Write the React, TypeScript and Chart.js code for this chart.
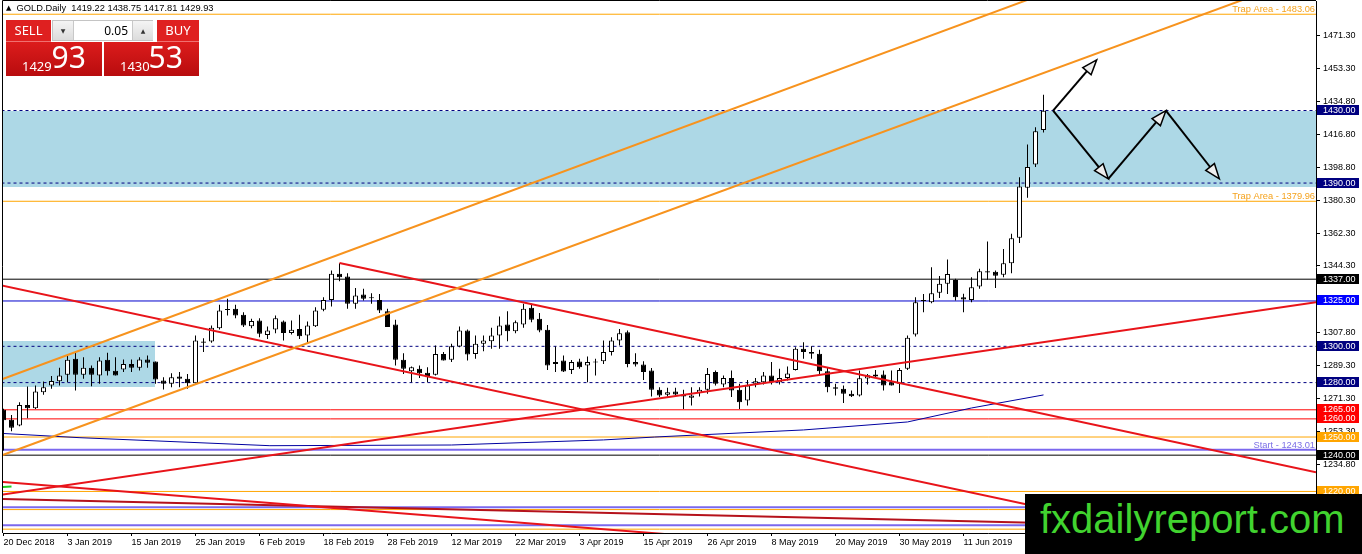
import React, { useEffect, useRef } from 'react';
import { Chart, registerables } from 'chart.js';

Chart.register(...registerables);

// ---------------- data ----------------
const symbolName = 'GOLD.Daily';
const bidPrice = 1429.93;
const askPrice = 1430.53;
const lotSize = 0.05;

const opens = [
  1265.0, 1259.5, 1256.4, 1267.7, 1265.9, 1274.7, 1278.4, 1280.8, 1284.3, 1293.1,
  1284.3, 1288.2, 1283.9, 1292.6, 1286.5, 1287.2, 1290.3, 1288.2, 1292.7, 1291.6,
  1281.2, 1279.3, 1283.4, 1282.1, 1279.7, 1302.0, 1302.7, 1310.0, 1320.5, 1320.7,
  1317.4, 1311.1, 1314.2, 1306.3, 1309.3, 1313.7, 1307.4, 1309.6, 1305.9, 1311.1,
  1320.1, 1325.6, 1340.0, 1338.5, 1323.4, 1328.6, 1326.8, 1325.6, 1319.4, 1312.0,
  1292.6, 1286.3, 1287.6, 1285.4, 1284.3, 1295.8, 1292.6, 1299.9, 1308.7, 1295.8,
  1301.4, 1302.8, 1306.0, 1312.0, 1308.3, 1312.0, 1321.2, 1315.2, 1309.1, 1290.3,
  1292.2, 1287.0, 1291.6, 1289.4, 1291.6, 1291.8, 1296.8, 1303.2, 1307.8, 1291.3,
  1290.0, 1286.7, 1276.0, 1273.3, 1275.1, 1273.4, 1271.6, 1274.2, 1276.0, 1285.8,
  1278.9, 1282.6, 1276.0, 1270.1, 1279.3, 1280.2, 1283.9, 1280.2, 1282.6, 1287.0,
  1298.6, 1296.8, 1295.9, 1286.3, 1277.5, 1276.6, 1273.8, 1272.9, 1282.2, 1284.5,
  1284.5, 1280.2, 1279.3, 1287.6, 1306.5, 1325.2, 1324.3, 1329.5, 1334.5, 1336.6,
  1327.1, 1325.6, 1333.0, 1341.4, 1341.1, 1339.4, 1345.8, 1359.8, 1387.4, 1400.2,
  1419.22,
];
const highs = [
  1265.6, 1262.2, 1269.2, 1277.9, 1278.4, 1280.6, 1283.6, 1288.2, 1294.9, 1297.1,
  1294.0, 1289.4, 1294.0, 1296.4, 1294.0, 1292.7, 1292.7, 1294.0, 1295.0, 1291.6,
  1283.0, 1285.2, 1285.8, 1284.8, 1306.0, 1304.5, 1311.5, 1322.9, 1326.2, 1322.9,
  1318.8, 1315.2, 1315.5, 1310.9, 1317.0, 1314.2, 1314.2, 1317.4, 1313.7, 1321.6,
  1327.1, 1341.8, 1345.8, 1340.3, 1332.2, 1331.7, 1329.3, 1328.9, 1320.7, 1314.6,
  1296.2, 1288.9, 1289.4, 1288.5, 1300.4, 1296.8, 1301.4, 1310.9, 1309.3, 1306.0,
  1306.0, 1310.2, 1316.4, 1319.4, 1314.2, 1323.4, 1323.4, 1318.3, 1311.8, 1299.9,
  1294.9, 1292.5, 1293.1, 1294.4, 1293.1, 1303.2, 1305.0, 1309.6, 1308.7, 1296.2,
  1291.8, 1288.1, 1277.5, 1277.1, 1277.1, 1276.0, 1277.5, 1277.5, 1288.1, 1286.7,
  1283.9, 1286.7, 1279.3, 1281.5, 1282.6, 1285.8, 1291.3, 1287.6, 1288.9, 1299.5,
  1302.3, 1300.1, 1298.1, 1288.1, 1279.3, 1278.4, 1275.6, 1286.7, 1284.8, 1287.0,
  1286.7, 1286.7, 1288.1, 1305.9, 1327.1, 1328.9, 1343.6, 1338.7, 1347.9, 1337.2,
  1329.0, 1338.1, 1342.7, 1357.8, 1341.8, 1353.7, 1362.0, 1393.2, 1411.3, 1420.8,
  1438.75,
];
const lows = [
  1242.6, 1253.2, 1256.0, 1260.4, 1265.5, 1273.3, 1276.6, 1278.4, 1280.2, 1275.7,
  1282.1, 1278.0, 1279.3, 1283.9, 1283.9, 1285.8, 1285.8, 1286.7, 1288.2, 1279.3,
  1276.2, 1277.5, 1277.5, 1276.6, 1279.3, 1296.8, 1301.9, 1309.3, 1317.0, 1315.5,
  1310.6, 1310.0, 1305.0, 1304.1, 1307.2, 1303.2, 1306.5, 1304.1, 1301.7, 1310.6,
  1319.4, 1321.9, 1335.9, 1320.7, 1320.7, 1325.3, 1323.4, 1318.3, 1310.6, 1289.4,
  1284.8, 1280.2, 1282.6, 1280.2, 1283.9, 1292.2, 1291.3, 1299.5, 1292.2, 1293.1,
  1297.3, 1298.6, 1298.6, 1302.8, 1307.2, 1310.2, 1313.3, 1307.8, 1287.0, 1285.8,
  1285.8, 1284.8, 1287.6, 1280.2, 1283.9, 1290.3, 1294.9, 1300.4, 1288.5, 1288.9,
  1281.5, 1272.3, 1272.0, 1272.3, 1272.7, 1265.5, 1267.4, 1272.3, 1273.8, 1278.4,
  1277.5, 1272.0, 1265.5, 1267.4, 1277.5, 1279.0, 1279.0, 1279.0, 1281.2, 1286.7,
  1293.1, 1293.1, 1284.8, 1274.7, 1272.9, 1268.7, 1272.0, 1272.3, 1278.9, 1283.0,
  1275.6, 1278.4, 1274.2, 1287.0, 1305.4, 1318.8, 1323.8, 1326.7, 1328.9, 1325.3,
  1318.8, 1324.3, 1331.7, 1336.7, 1332.2, 1338.1, 1340.3, 1356.9, 1381.9, 1398.8,
  1417.81,
];
const closes = [
  1259.3, 1255.1, 1267.7, 1265.9, 1275.1, 1277.5, 1280.9, 1283.9, 1292.6, 1284.3,
  1288.2, 1284.3, 1292.2, 1286.3, 1283.9, 1290.3, 1288.2, 1292.7, 1290.9, 1281.7,
  1279.3, 1283.0, 1282.1, 1279.7, 1303.2, 1302.7, 1310.2, 1319.8, 1320.0, 1317.0,
  1311.5, 1313.9, 1306.9, 1308.7, 1315.5, 1307.4, 1309.1, 1305.6, 1311.5, 1319.7,
  1325.6, 1340.0, 1338.1, 1323.4, 1328.0, 1326.2, 1326.5, 1319.7, 1310.6, 1292.6,
  1287.6, 1288.5, 1285.2, 1283.0, 1295.8, 1292.2, 1300.1, 1308.7, 1295.5, 1301.4,
  1303.2, 1306.0, 1311.5, 1308.3, 1313.3, 1320.7, 1314.6, 1308.7, 1289.4, 1291.3,
  1286.1, 1291.3, 1288.5, 1291.3, 1291.1, 1296.8, 1303.2, 1307.2, 1290.3, 1290.0,
  1285.8, 1276.0, 1272.9, 1274.7, 1273.4, 1272.3, 1272.9, 1276.0, 1284.8, 1279.3,
  1282.6, 1275.6, 1269.2, 1278.4, 1280.8, 1283.9, 1280.2, 1282.6, 1285.0, 1298.6,
  1296.8, 1295.9, 1286.3, 1277.5, 1276.6, 1273.8, 1272.5, 1282.4, 1284.1, 1283.4,
  1278.4, 1278.4, 1287.0, 1304.7, 1324.3, 1325.0, 1329.3, 1334.5, 1339.9, 1327.1,
  1325.8, 1332.6, 1341.4, 1340.7, 1338.9, 1345.8, 1359.6, 1388.1, 1398.8, 1418.6,
  1429.93,
];

const dateTickIndex = [0, 8, 16, 24, 32, 40, 48, 56, 64, 72, 80, 88, 96, 104, 112, 120];
const dateTickLabels = [
  '20 Dec 2018', '3 Jan 2019', '15 Jan 2019', '25 Jan 2019', '6 Feb 2019', '18 Feb 2019',
  '28 Feb 2019', '12 Mar 2019', '22 Mar 2019', '3 Apr 2019', '15 Apr 2019', '26 Apr 2019',
  '8 May 2019', '20 May 2019', '30 May 2019', '11 Jun 2019',
];
const priceTicks = [
  1471.3, 1453.3, 1434.8, 1416.8, 1398.8, 1380.3, 1362.3, 1344.3, 1325.8,
  1307.8, 1289.3, 1271.3, 1253.3, 1234.8, 1216.8,
];

// horizontal levels
const levelValues = [
  1483.06, 1430, 1390, 1379.96, 1337, 1325, 1300, 1280, 1265, 1260,
  1250, 1243.01, 1240, 1220, 1211.3, 1210, 1201.4, 1199.2,
];
const levelKinds = [
  'trap', 'dash', 'dash', 'trap', 'black', 'blue', 'dash', 'dash', 'red', 'red',
  'orange', 'start', 'black', 'orange', 'start', 'orange', 'start', 'orange',
];
const axisBoxValues = [1430, 1390, 1337, 1325, 1300, 1280, 1265, 1260, 1250, 1240, 1220];
const axisBoxKinds = ['navy', 'navy', 'black', 'blue', 'navy', 'navy', 'red', 'red', 'orange', 'black', 'orange'];
const trapLevels = [1483.06, 1379.96];
const startLevels = [1243.01];

// moving average
const maIndex = [-0.44, 9.56, 33.3, 56, 75, 81.4, 100, 113, 121, 130];
const maValues = [1252.05, 1249.63, 1245.22, 1245.6, 1248.4, 1250.0, 1253.9, 1258.3, 1266.0, 1273.2];

// trend lines [x0, price0, x1, price1]
const orangeLines = [
  [-0.4375, 1281.43, 164.0625, 1549.85],
  [-0.4375, 1239.54, 164.0625, 1505.8],
];
const redLines = [
  [-0.4375, 1333.8, 164.0625, 1178.79],
  [42, 1345.9, 164.0625, 1230.55],
  [-0.4375, 1218.04, 164.0625, 1324.27],
  [-0.4375, 1225.37, 164.0625, 1168.26],
];
const darkRedLines = [[-0.4375, 1215.83, 164.0625, 1199.13]];
const greenLines = [[-1, 1222.3, 1.0, 1222.7]];

// rectangles
const zoneFrom = [-5, -5];
const zoneTo = [200, 18.94];
const zoneTop = [1430, 1303.2];
const zoneBottom = [1387.8, 1277.5];

// projection arrows
const arrowFromX = [131.2, 131.2, 138.1, 145.3];
const arrowFromY = [1429.9, 1429.9, 1392.35, 1429.9];
const arrowToX = [136.65, 138.1, 145.3, 151.98];
const arrowToY = [1457.95, 1392.35, 1429.9, 1392.35];

// scale range
const xMin = -0.0625;
const xMax = 164.0625;
const yMin = 1197.089;
const yMax = 1490.364;

// ---------------- styles ----------------
const kindStyle: Record<string, { color: string; width: number; dash: number[] }> = {
  trap: { color: '#ffa500', width: 1, dash: [] },
  dash: { color: '#000080', width: 1, dash: [3, 3] },
  black: { color: '#000000', width: 1, dash: [] },
  blue: { color: '#0000cd', width: 1, dash: [] },
  red: { color: '#ff0000', width: 1, dash: [] },
  orange: { color: '#ffa500', width: 1, dash: [] },
  start: { color: '#7b68ee', width: 2, dash: [] },
};
const boxColor: Record<string, string> = {
  navy: '#000080',
  black: '#000000',
  blue: '#0000ff',
  red: '#ff0000',
  orange: '#ffa500',
};
const FONT = '"Liberation Sans", Arial, sans-serif';

function lineDs(seg: number[], color: string, width: number, order: number, dash: number[] = []) {
  return {
    type: 'line',
    data: [
      { x: seg[0], y: seg[1] },
      { x: seg[2], y: seg[3] },
    ],
    borderColor: color,
    borderWidth: width,
    borderDash: dash,
    pointRadius: 0,
    fill: false,
    clip: 0,
    order,
  };
}

function drawArrow(ctx: CanvasRenderingContext2D, x0: number, y0: number, x1: number, y1: number) {
  const ang = Math.atan2(y1 - y0, x1 - x0);
  const L = 15;
  const W = 5.5;
  const c = Math.cos(ang);
  const s = Math.sin(ang);
  const bx = x1 - L * c;
  const by = y1 - L * s;
  ctx.strokeStyle = '#000';
  ctx.lineWidth = 2;
  ctx.beginPath();
  ctx.moveTo(x0, y0);
  ctx.lineTo(bx, by);
  ctx.stroke();
  ctx.beginPath();
  ctx.moveTo(x1, y1);
  ctx.lineTo(bx + W * s, by - W * c);
  ctx.lineTo(bx - W * s, by + W * c);
  ctx.closePath();
  ctx.fillStyle = '#eeeeee';
  ctx.fill();
  ctx.lineWidth = 1.5;
  ctx.stroke();
}

const mt4Plugin = {
  id: 'mt4Overlay',
  beforeDatasetsDraw(chart: any) {
    const { ctx, chartArea: a, scales } = chart;
    const xs = scales.x;
    const ys = scales.y;
    ctx.save();
    ctx.beginPath();
    ctx.rect(a.left, a.top, a.right - a.left, a.bottom - a.top);
    ctx.clip();
    ctx.fillStyle = '#add8e6';
    for (let i = 0; i < zoneFrom.length; i++) {
      const x0 = Math.max(a.left, Math.round(xs.getPixelForValue(zoneFrom[i])));
      const x1 = Math.min(a.right, Math.round(xs.getPixelForValue(zoneTo[i])));
      const y0 = Math.round(ys.getPixelForValue(zoneTop[i]));
      const y1 = Math.round(ys.getPixelForValue(zoneBottom[i]));
      ctx.fillRect(x0, y0, x1 - x0, y1 - y0);
    }
    ctx.restore();
  },
  afterDatasetsDraw(chart: any) {
    const { ctx, chartArea: a, scales } = chart;
    const xs = scales.x;
    const ys = scales.y;
    ctx.save();
    ctx.beginPath();
    ctx.rect(a.left, a.top, a.right - a.left, a.bottom - a.top);
    ctx.clip();
    for (let i = 0; i < arrowFromX.length; i++) {
      drawArrow(
        ctx,
        xs.getPixelForValue(arrowFromX[i]),
        ys.getPixelForValue(arrowFromY[i]),
        xs.getPixelForValue(arrowToX[i]),
        ys.getPixelForValue(arrowToY[i])
      );
    }
    ctx.font = `9.3px ${FONT}`;
    ctx.textAlign = 'right';
    ctx.textBaseline = 'alphabetic';
    ctx.fillStyle = '#f5a21c';
    trapLevels.forEach((v) => {
      ctx.fillText(`Trap Area - ${v.toFixed(2)}`, a.right - 1, Math.round(ys.getPixelForValue(v)) - 2);
    });
    ctx.fillStyle = '#7b6fe6';
    startLevels.forEach((v) => {
      ctx.fillText(`Start - ${v.toFixed(2)}`, a.right - 1, Math.round(ys.getPixelForValue(v)) - 2);
    });
    ctx.restore();
  },
  afterDraw(chart: any) {
    const { ctx, chartArea: a, scales } = chart;
    const ys = scales.y;
    ctx.save();
    ctx.strokeStyle = '#000';
    ctx.lineWidth = 1;
    ctx.beginPath();
    ctx.moveTo(a.left - 0.5, a.bottom);
    ctx.lineTo(a.left - 0.5, a.top - 0.5);
    ctx.lineTo(a.right, a.top - 0.5);
    ctx.stroke();
    ctx.font = `9px ${FONT}`;
    ctx.textAlign = 'left';
    ctx.textBaseline = 'middle';
    axisBoxValues.forEach((v, i) => {
      const py = ys.getPixelForValue(v);
      const top = Math.floor(py) - 5;
      ctx.fillStyle = boxColor[axisBoxKinds[i]];
      ctx.fillRect(a.right + 1, top, 42, 10);
      ctx.fillStyle = '#ffffff';
      ctx.fillText(v.toFixed(2), a.right + 7, top + 5.5);
    });
    ctx.restore();
  },
};

function buildConfig(): any {
  const idx = opens.map((_, i) => i);
  const bull = idx.map((i) => closes[i] >= opens[i]);
  const datasets: any[] = [];

  levelValues.forEach((v, i) => {
    const st = kindStyle[levelKinds[i]];
    datasets.push(lineDs([-10, v, 200, v], st.color, st.width, 60, st.dash));
  });

  datasets.push({
    type: 'line',
    data: maIndex.map((x, i) => ({ x, y: maValues[i] })),
    borderColor: '#0000a0',
    borderWidth: 1,
    pointRadius: 0,
    fill: false,
    clip: 0,
    order: 40,
  });

  datasets.push({
    type: 'bar',
    data: idx.map((i) => ({ x: i, y: [lows[i], highs[i]] })),
    backgroundColor: '#000000',
    borderWidth: 0,
    barThickness: 1,
    grouped: false,
    inflateAmount: 0,
    clip: 0,
    order: 30,
  });

  datasets.push({
    type: 'bar',
    data: idx.map((i) => ({ x: i, y: [opens[i], closes[i]] })),
    backgroundColor: idx.map((i) => (bull[i] ? '#ffffff' : '#000000')),
    borderColor: '#000000',
    borderWidth: 1,
    borderSkipped: false,
    barThickness: 5,
    minBarLength: 1,
    grouped: false,
    inflateAmount: 0,
    clip: 0,
    order: 20,
  });

  orangeLines.forEach((s) => datasets.push(lineDs(s, '#f7931e', 2, 10)));
  redLines.forEach((s) => datasets.push(lineDs(s, '#e8141a', 2, 10)));
  darkRedLines.forEach((s) => datasets.push(lineDs(s, '#b5121b', 2, 11)));
  greenLines.forEach((s) => datasets.push(lineDs(s, '#22cc22', 2, 12)));

  return {
    type: 'bar',
    data: { datasets },
    plugins: [mt4Plugin],
    options: {
      animation: false,
      responsive: false,
      devicePixelRatio: 1,
      events: [],
      layout: { padding: { left: 3, top: 1, right: 0, bottom: 0 } },
      plugins: { legend: { display: false }, tooltip: { enabled: false } },
      scales: {
        x: {
          type: 'linear',
          position: 'bottom',
          min: xMin,
          max: xMax,
          offset: false,
          grid: { display: true, drawOnChartArea: false, drawTicks: true, tickLength: 3, color: '#000', offset: false },
          border: { display: true, color: '#000', width: 1 },
          ticks: {
            autoSkip: false,
            maxRotation: 0,
            minRotation: 0,
            align: 'start',
            padding: 1,
            color: '#000',
            font: { family: FONT, size: 9 },
            callback: (v: number) => {
              const k = dateTickIndex.indexOf(v);
              return k >= 0 ? dateTickLabels[k] : '';
            },
          },
          afterBuildTicks: (s: any) => {
            s.ticks = dateTickIndex.map((v) => ({ value: v }));
          },
          afterFit: (s: any) => {
            s.height = 21;
            s.paddingLeft = 0;
            s.paddingRight = 0;
          },
        },
        y: {
          type: 'linear',
          position: 'right',
          min: yMin,
          max: yMax,
          beginAtZero: false,
          grid: { display: true, drawOnChartArea: false, drawTicks: true, tickLength: 4, color: '#000' },
          border: { display: true, color: '#000', width: 1 },
          ticks: {
            autoSkip: false,
            padding: 3,
            color: '#000',
            font: { family: FONT, size: 9 },
            callback: (v: number) => Number(v).toFixed(2),
          },
          afterBuildTicks: (s: any) => {
            s.ticks = priceTicks.map((v) => ({ value: v }));
          },
          afterFit: (s: any) => {
            s.width = 46;
            s.paddingTop = 0;
            s.paddingBottom = 0;
          },
        },
      },
    },
  };
}

const abs = (o: any): any => ({ position: 'absolute', ...o });

export default function App() {
  const ref = useRef<HTMLCanvasElement>(null);
  useEffect(() => {
    document.body.style.margin = '0';
    document.body.style.overflow = 'hidden';
    const chart = new Chart(ref.current as HTMLCanvasElement, buildConfig());
    return () => chart.destroy();
  }, []);

  const last = opens.length - 1;
  const header = `${symbolName}  ${opens[last].toFixed(2)} ${highs[last].toFixed(2)} ${lows[last].toFixed(2)} ${closes[last].toFixed(2)}`;
  const bidStr = bidPrice.toFixed(2).split('.');
  const askStr = askPrice.toFixed(2).split('.');
  const panelFont = '"Noto Sans", "Open Sans", sans-serif';
  const boxBg = 'linear-gradient(#dc1c1c, #b80c0e)';

  return (
    <div style={abs({ left: 0, top: 0, width: 1362, height: 554, background: '#fff', overflow: 'hidden' })}>
      <canvas ref={ref} width={1362} height={554} style={abs({ left: 0, top: 0, width: 1362, height: 554 })} />

      {/* header */}
      <div style={abs({ left: 6, top: 2, font: `9.3px ${FONT}`, lineHeight: '12px', color: '#000', whiteSpace: 'pre' })}>
        <span style={{ fontSize: 7, position: 'relative', top: -1, fontFamily: '"DejaVu Sans"' }}>▲</span>
        {'  ' + header}
      </div>

      {/* one-click trading panel */}
      <div style={abs({ left: 6, top: 20, width: 45, height: 22, background: '#df2020', color: '#fff', font: `13px ${panelFont}`, lineHeight: '21px', textAlign: 'center', borderBottom: '1px solid #f07070', boxSizing: 'border-box' })}>SELL</div>
      <div style={abs({ left: 157, top: 20, width: 42, height: 22, background: '#df2020', color: '#fff', font: `13px ${panelFont}`, lineHeight: '21px', textAlign: 'center', borderBottom: '1px solid #f07070', boxSizing: 'border-box' })}>BUY</div>
      <div style={abs({ left: 52, top: 20, width: 101, height: 21, background: '#fff', border: '1px solid #c4c4c4', boxSizing: 'border-box' })}>
        <div style={abs({ left: 0, top: 0, width: 20, height: 19, background: 'linear-gradient(#f4f4f4, #dcdcdc)', borderRight: '1px solid #c8c8c8', fontSize: 6, lineHeight: '19px', textAlign: 'center', color: '#333', fontFamily: '"DejaVu Sans"' })}>▼</div>
        <div style={abs({ right: 24, top: 0, height: 19, font: `12px ${panelFont}`, lineHeight: '19px', color: '#000' })}>{lotSize.toFixed(2)}</div>
        <div style={abs({ left: 79, top: 0, width: 20, height: 19, background: 'linear-gradient(#f4f4f4, #dcdcdc)', borderLeft: '1px solid #c8c8c8', fontSize: 6, lineHeight: '19px', textAlign: 'center', color: '#333', fontFamily: '"DejaVu Sans"' })}>▲</div>
      </div>
      <div style={abs({ left: 6, top: 42, width: 96, height: 34, background: boxBg })}>
        <span style={abs({ left: 16, top: 17.5, font: `13px ${panelFont}`, lineHeight: '13px', color: '#fff' })}>{bidStr[0]}</span>
        <span style={abs({ left: 45.5, top: -0.5, font: `30px ${panelFont}`, lineHeight: '30px', color: '#fff' })}>{bidStr[1]}</span>
      </div>
      <div style={abs({ left: 104, top: 42, width: 95, height: 34, background: boxBg })}>
        <span style={abs({ left: 16, top: 17.5, font: `13px ${panelFont}`, lineHeight: '13px', color: '#fff' })}>{askStr[0]}</span>
        <span style={abs({ left: 44.5, top: -0.5, font: `30px ${panelFont}`, lineHeight: '30px', color: '#fff' })}>{askStr[1]}</span>
      </div>

      {/* watermark */}
      <div style={abs({ left: 1025, top: 494, width: 337, height: 60, background: '#000' })}>
        <div style={abs({ left: 15, top: 0, font: `40px ${FONT}`, lineHeight: '50px', color: '#41d32f', whiteSpace: 'nowrap' })}>fxdailyreport.com</div>
      </div>
    </div>
  );
}
